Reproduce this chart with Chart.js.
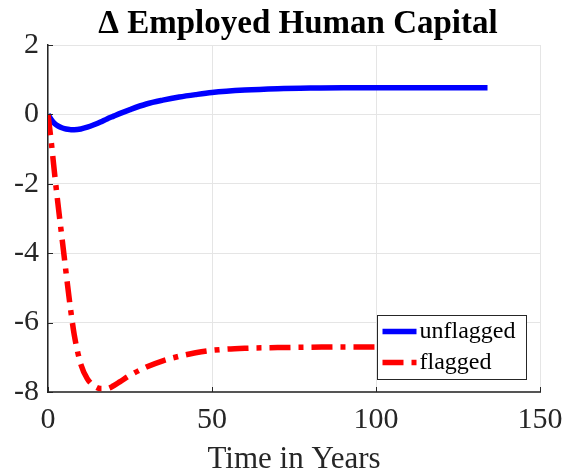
<!DOCTYPE html>
<html>
<head>
  <title>Employed Human Capital</title>
  <script src="https://cdn.jsdelivr.net/npm/chart.js"></script>
  <style>
    body { margin: 0; background: #fff; }
  </style>
</head>
<body>
  <canvas id="chart" width="576" height="473"></canvas>
  <script>
    const years = [0, 1, 2, 3, 4, 5, 6, 7, 8, 10, 12, 14, 16, 18, 20, 22, 25, 30, 35, 40, 45, 50, 60, 70, 80, 90, 100, 110, 120, 134];
    const unflagged = [0, -0.15, -0.26, -0.33, -0.38, -0.41, -0.43, -0.44, -0.44, -0.42, -0.37, -0.3, -0.22, -0.13, -0.05, 0.03, 0.14, 0.3, 0.41, 0.5, 0.57, 0.63, 0.7, 0.74, 0.76, 0.77, 0.77, 0.77, 0.77, 0.77];
    const flagged = [0, -0.8, -1.7, -2.55, -3.35, -4.15, -4.95, -5.7, -6.35, -7.2, -7.62, -7.82, -7.9, -7.9, -7.82, -7.7, -7.52, -7.28, -7.1, -6.97, -6.87, -6.8, -6.74, -6.72, -6.71, -6.7, -6.7, -6.7, -6.7, -6.7];
    const xTicks = [0, 50, 100, 150];
    const yTicks = [-8, -6, -4, -2, 0, 2];

    const serif = '"Liberation Serif", "Times New Roman", serif';
    const ink = '#262626';

    // title, inward ticks and the boxed legend, MATLAB style
    const extras = {
      id: 'extras',
      afterDraw(chart) {
        const ctx = chart.ctx;
        const area = chart.chartArea;
        const xs = chart.scales.x, ys = chart.scales.y;
        ctx.save();
        ctx.fillStyle = '#000';
        ctx.font = 'bold 33px ' + serif;
        ctx.textAlign = 'center';
        ctx.textBaseline = 'alphabetic';
        ctx.fillText('\u0394 Employed Human Capital', (area.left + area.right) / 2 + 4, 33);

        ctx.strokeStyle = ink;
        ctx.lineWidth = 1;
        xTicks.forEach(v => {
          const px = Math.round(xs.getPixelForValue(v)) + 0.5;
          ctx.beginPath(); ctx.moveTo(px, area.bottom); ctx.lineTo(px, area.bottom - 5); ctx.stroke();
        });
        yTicks.forEach(v => {
          const py = Math.round(ys.getPixelForValue(v)) + 0.5;
          ctx.beginPath(); ctx.moveTo(area.left, py); ctx.lineTo(area.left + 5, py); ctx.stroke();
        });

        // legend
        const bx = 377.5, by = 315.5, bw = 149, bh = 64;
        ctx.fillStyle = '#fff';
        ctx.fillRect(bx, by, bw, bh);
        ctx.strokeStyle = ink;
        ctx.strokeRect(bx, by, bw, bh);
        chart.data.datasets.forEach((ds, i) => {
          const cy = by + 16 + i * 31;
          ctx.strokeStyle = ds.borderColor;
          ctx.lineWidth = ds.borderWidth;
          ctx.setLineDash(ds.borderDash || []);
          ctx.beginPath(); ctx.moveTo(bx + 5, cy); ctx.lineTo(bx + 39, cy); ctx.stroke();
          ctx.setLineDash([]);
          ctx.fillStyle = '#000';
          ctx.font = '24px ' + serif;
          ctx.textAlign = 'left';
          ctx.textBaseline = 'middle';
          ctx.fillText(ds.label, bx + 42, cy);
        });
        ctx.restore();
      }
    };

    new Chart(document.getElementById('chart'), {
      type: 'line',
      data: {
        datasets: [
          {
            label: 'unflagged',
            data: years.map((t, i) => ({ x: t, y: unflagged[i] })),
            borderColor: '#0000ff',
            borderWidth: 5.5,
            pointRadius: 0,
            cubicInterpolationMode: 'monotone',
            order: 1
          },
          {
            label: 'flagged',
            data: years.map((t, i) => ({ x: t, y: flagged[i] })),
            borderColor: '#ff0000',
            borderWidth: 5.5,
            borderDash: [21, 8, 5, 8],
            pointRadius: 0,
            cubicInterpolationMode: 'monotone',
            order: 0
          }
        ]
      },
      options: {
        responsive: false,
        animation: false,
        layout: { padding: { top: 45, right: 36, left: 0, bottom: 0 } },
        plugins: {
          legend: { display: false },
          tooltip: { enabled: false }
        },
        scales: {
          x: {
            type: 'linear',
            min: 0,
            max: 150,
            afterFit: s => { s.height = 81; },
            afterBuildTicks: s => { s.ticks = xTicks.map(v => ({ value: v })); },
            grid: { color: '#e5e5e5', drawTicks: false },
            border: { color: '#555', width: 2 },
            ticks: { color: ink, font: { family: serif, size: 30 }, padding: 10, maxRotation: 0 },
            title: { display: true, text: 'Time in Years', color: ink, font: { family: serif, size: 31 }, padding: { top: 0, bottom: -5 } }
          },
          y: {
            min: -8,
            max: 2,
            afterFit: s => { s.width = 48; },
            afterBuildTicks: s => { s.ticks = yTicks.map(v => ({ value: v })); },
            grid: { color: '#e5e5e5', drawTicks: false },
            border: { color: ink, width: 1.5 },
            ticks: { color: ink, font: { family: serif, size: 30 }, padding: 9 }
          }
        }
      },
      plugins: [extras]
    });
  </script>
</body>
</html>
